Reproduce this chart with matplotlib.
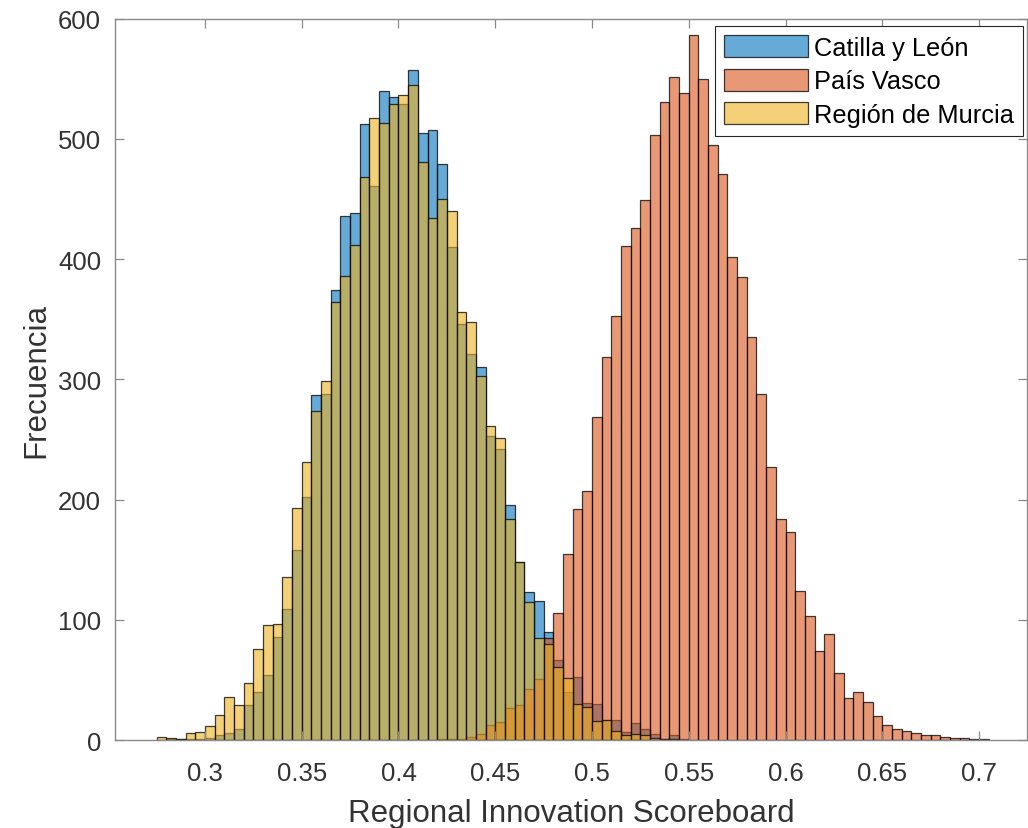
import numpy as np
import matplotlib
matplotlib.use("Agg")
import matplotlib.pyplot as plt

plt.rcParams['font.family'] = ['Liberation Sans', 'DejaVu Sans']

# ---- data (histogram counts, bin width 0.005) ----
bin_width = 0.005

castilla_first_bin = 0.280
castilla_counts = [1, 1, 1, 1, 2, 4, 6, 9, 29, 40, 54, 86, 109, 158, 202,
                   287, 288, 374, 436, 438, 512, 461, 540, 535, 529,
                   557, 505, 507, 479, 410, 346, 321, 310, 253, 242,
                   196, 148, 123, 116, 90, 67, 40, 53, 31, 30,
                   17, 17, 7, 14, 9, 5, 1, 4, 1]

vasco_first_bin = 0.420
vasco_counts = [1, 1, 1, 3, 5, 13, 15, 27, 29, 43, 51, 85, 106, 155, 192,
                207, 269, 319, 353, 411, 426, 449, 503, 531, 551,
                538, 586, 550, 495, 471, 402, 385, 335, 288, 227,
                184, 173, 124, 103, 74, 88, 56, 35, 40, 32,
                20, 13, 9, 8, 6, 4, 4, 3, 2, 2, 1, 1]

murcia_first_bin = 0.275
murcia_counts = [3, 2, 1, 6, 7, 12, 21, 36, 29, 48, 76, 96, 97, 136, 193,
                 231, 274, 299, 364, 386, 412, 468, 517, 513, 529,
                 536, 545, 481, 434, 450, 440, 356, 348, 303, 261,
                 251, 184, 148, 115, 85, 80, 61, 52, 30, 28,
                 16, 17, 8, 4, 5, 4, 2, 1, 1]

series_names = ['Catilla y León', 'País Vasco', 'Región de Murcia']
series_colors = ['#0072BD', '#D95319', '#EDB120']

x_ticks = [0.3, 0.35, 0.4, 0.45, 0.5, 0.55, 0.6, 0.65, 0.7]
x_tick_labels = ['0.3', '0.35', '0.4', '0.45', '0.5', '0.55', '0.6', '0.65', '0.7']
y_ticks = [0, 100, 200, 300, 400, 500, 600]

# ---- figure ----
fig = plt.figure(figsize=(10.28, 8.29), dpi=100)
ax = fig.add_axes([115/1028, 1-741.3/829, (1027-115)/1028, (741.3-19.5)/829])

series = [(castilla_first_bin, castilla_counts),
          (vasco_first_bin, vasco_counts),
          (murcia_first_bin, murcia_counts)]

for (first, counts), name, col in zip(series, series_names, series_colors):
    lefts = first + bin_width * np.arange(len(counts))
    rgb = matplotlib.colors.to_rgb(col)
    ax.bar(lefts, counts, width=bin_width, align='edge',
           facecolor=(*rgb, 0.6), edgecolor=(0, 0, 0, 0.75),
           linewidth=0.9, label=name)

ax.set_xlim(0.2535, 0.7248)
ax.set_ylim(0, 600)
ax.set_xticks(x_ticks)
ax.set_xticklabels(x_tick_labels)
ax.set_yticks(y_ticks)

axis_col = '#8a8a8a'
text_col = '#333333'
for s in ax.spines.values():
    s.set_color(axis_col)
    s.set_linewidth(1.0)
ax.tick_params(direction='in', length=6.5, width=0.9, color=axis_col,
               labelsize=18.5, labelcolor=text_col,
               top=True, right=True)
ax.tick_params(axis='x', pad=15)
ax.tick_params(axis='y', pad=10)

ax.set_xlabel('Regional Innovation Scoreboard', fontsize=22.5, color=text_col, labelpad=9)
ax.set_ylabel('Frecuencia', fontsize=22.5, color=text_col, labelpad=5)

leg = ax.legend(loc='upper right', bbox_to_anchor=(0.9956, 0.9896),
                borderaxespad=0, fontsize=18.3, frameon=True, fancybox=False,
                framealpha=1, edgecolor='#262626',
                handlelength=3.3, handleheight=0.96, handletextpad=0.25,
                labelspacing=0.35, borderpad=0.35)
leg.get_frame().set_linewidth(0.8)

fig.savefig('out.png', dpi=100)
